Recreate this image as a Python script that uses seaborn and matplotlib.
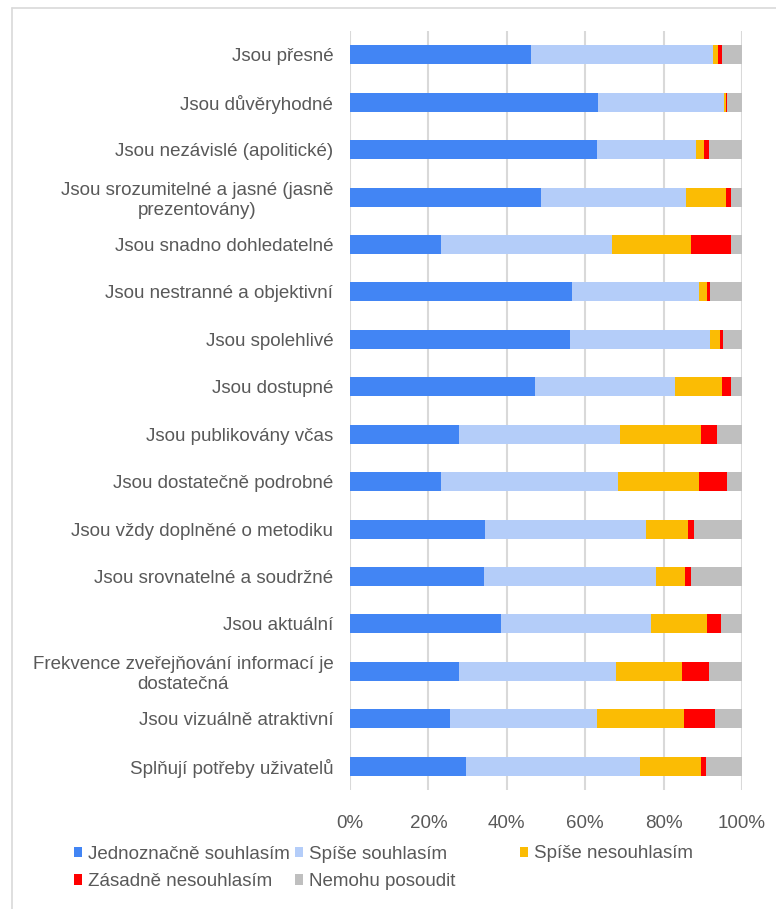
import numpy as np
import pandas as pd
import matplotlib
matplotlib.use("Agg")
import matplotlib.pyplot as plt
import seaborn as sns
from matplotlib.lines import Line2D
from matplotlib.patches import Patch

categories = [
    "Jsou přesné",
    "Jsou důvěryhodné",
    "Jsou nezávislé (apolitické)",
    "Jsou srozumitelné a jasné (jasně\nprezentovány)",
    "Jsou snadno dohledatelné",
    "Jsou nestranné a objektivní",
    "Jsou spolehlivé",
    "Jsou dostupné",
    "Jsou publikovány včas",
    "Jsou dostatečně podrobné",
    "Jsou vždy doplněné o metodiku",
    "Jsou srovnatelné a soudržné",
    "Jsou aktuální",
    "Frekvence zveřejňování informací je\ndostatečná",
    "Jsou vizuálně atraktivní",
    "Splňují potřeby uživatelů",
]

jednoznacne_souhlasim = [46.3, 63.2, 62.9, 48.6, 23.2, 56.7, 56.1, 47.1,
                         27.7, 23.2, 34.5, 34.3, 38.6, 27.7, 25.4, 29.7]
spise_souhlasim = [46.3, 32.2, 25.3, 37.1, 43.6, 32.4, 35.8, 35.8,
                   41.1, 45.1, 41.0, 43.7, 38.2, 40.1, 37.5, 44.3]
spise_nesouhlasim = [1.3, 0.4, 2.1, 10.2, 20.1, 2.0, 2.5, 12.0,
                     20.8, 20.8, 10.8, 7.4, 14.3, 16.9, 22.3, 15.6]
zasadne_nesouhlasim = [1.1, 0.5, 1.3, 1.4, 10.4, 0.8, 0.8, 2.4,
                       3.9, 7.2, 1.5, 1.6, 3.6, 7.0, 8.0, 1.3]
nemohu_posoudit = [5.0, 3.7, 8.4, 2.7, 2.7, 8.1, 4.8, 2.7,
                   6.5, 3.7, 12.2, 13.0, 5.3, 8.3, 6.8, 9.1]

series_names = ["Jednoznačně souhlasím", "Spíše souhlasím", "Spíše nesouhlasím",
                "Zásadně nesouhlasím", "Nemohu posoudit"]
series_colors = ["#4285F4", "#B4CDF9", "#FBBC04", "#FF0000", "#BFBFBF"]

df = pd.DataFrame({
    "kategorie": categories,
    series_names[0]: jednoznacne_souhlasim,
    series_names[1]: spise_souhlasim,
    series_names[2]: spise_nesouhlasim,
    series_names[3]: zasadne_nesouhlasim,
    series_names[4]: nemohu_posoudit,
})

# kumulativni soucty pro skladane pruhy
cum = df[series_names].cumsum(axis=1)

sns.set_style("white")
plt.rcParams["font.family"] = ["Liberation Sans", "DejaVu Sans"]
FS = 13.5
TXT = "#595959"

fig = plt.figure(figsize=(7.76, 9.09), dpi=100)
ax = fig.add_axes([350 / 776, 1 - 790 / 909, 392 / 776, 759 / 909])

# kreslime od nejsirsiho k nejuzsimu, aby se prekryvaly
for name, color in reversed(list(zip(series_names, series_colors))):
    sns.barplot(x=cum[name], y=df["kategorie"], orient="h", color=color,
                width=0.4, ax=ax, saturation=1, edgecolor="none", linewidth=0)

ax.set_xlim(0, 100)
ax.set_xticks([0, 20, 40, 60, 80, 100])
ax.set_xticklabels([f"{v}%" for v in [0, 20, 40, 60, 80, 100]])
ax.set_xlabel("")
ax.set_ylabel("")
ax.xaxis.grid(True, color="#d9d9d9", linewidth=1.5)
ax.set_axisbelow(True)
for s in ax.spines.values():
    s.set_visible(False)
ax.tick_params(axis="y", length=0, pad=12, labelsize=FS, labelcolor=TXT)
ax.tick_params(axis="x", length=0, pad=18, labelsize=FS, labelcolor=TXT)
for lbl in ax.get_yticklabels():
    lbl.set_multialignment("center")

handles = [Patch(facecolor=c, edgecolor="none") for c in series_colors]
leg_kw = dict(loc="center left", frameon=False, fontsize=FS, labelcolor=TXT,
              handlelength=0.45, handleheight=0.45, handletextpad=0.3,
              borderpad=0, borderaxespad=0)
# prvni dva sloupce legendy
order = [0, 3, 1, 4]
fig.legend([handles[i] for i in order], [series_names[i] for i in order],
           ncol=2, bbox_to_anchor=(74 / 776, 1 - 868 / 909),
           columnspacing=0.25, labelspacing=0.55, **leg_kw)
# treti sloupec
fig.legend([handles[2]], [series_names[2]],
           bbox_to_anchor=(520 / 776, 1 - 854 / 909), **leg_kw)

# okraj grafu
fig.add_artist(Line2D([12 / 776, 1], [1 - 8 / 909, 1 - 8 / 909],
                      transform=fig.transFigure, color="#d9d9d9", linewidth=1.2))
fig.add_artist(Line2D([12 / 776, 12 / 776], [0, 1 - 8 / 909],
                      transform=fig.transFigure, color="#d9d9d9", linewidth=1.2))

fig.savefig("out.png", dpi=100, facecolor="white")
